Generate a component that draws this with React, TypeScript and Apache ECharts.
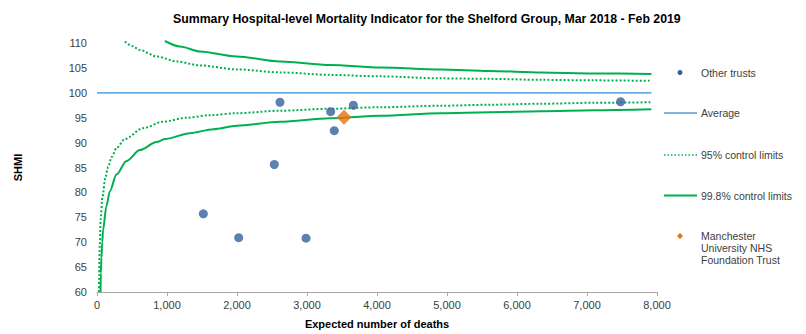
import React, { useEffect, useRef } from "react";
import * as echarts from "echarts";

// Other trusts: expected deaths and SHMI
const otherExpected = [1519, 2024, 2533, 2986, 2614, 3338, 3390, 3662, 7480];
const otherShmi = [75.7, 70.9, 85.6, 70.8, 98.1, 96.2, 92.4, 97.5, 98.2];

// Manchester University NHS Foundation Trust
const manchesterExpected = [3529];
const manchesterShmi = [95.1];

// Average
const averageExpected = [0, 7920];
const averageShmi = [100, 100];

// 95% control limits
const lower95Expected = [27, 30, 39, 53, 77, 120, 158, 210, 278, 398, 659, 946, 1281, 1615, 1997, 2617, 3334, 4050, 4912, 5600, 6345, 7100, 7920];
const lower95Shmi = [60, 63.5, 69.3, 74.8, 79, 83, 85.1, 87.1, 88.9, 90.7, 92.9, 94.2, 95.0, 95.5, 95.9, 96.4, 96.8, 97.1, 97.4, 97.6, 97.8, 98.0, 98.1];
const upper95Expected = [398, 500, 612, 851, 1138, 1471, 1997, 2617, 3334, 4050, 4912, 5600, 6345, 7100, 7920];
const upper95Shmi = [110.3, 109.4, 108.6, 107.3, 106.3, 105.5, 104.7, 104.1, 103.6, 103.3, 102.9, 102.8, 102.6, 102.5, 102.4];

// 99.8% control limits
const lower998Expected = [50, 55, 63, 75, 86, 134, 182, 278, 421, 612, 851, 970, 1328, 1662, 1997, 2617, 3334, 4050, 4912, 5600, 6345, 7100, 7920];
const lower998Shmi = [60, 63.8, 66.8, 70, 72.4, 77.2, 80.2, 83.6, 86.3, 88.5, 90.1, 90.7, 91.9, 92.7, 93.4, 94.2, 94.9, 95.4, 95.9, 96.1, 96.3, 96.5, 96.7];
const upper998Expected = [970, 1185, 1471, 1997, 2617, 3334, 4050, 4912, 5600, 6345, 7100, 7920];
const upper998Shmi = [110.4, 109.3, 108.3, 107.3, 106.3, 105.6, 105.1, 104.7, 104.4, 104.1, 103.9, 103.8];

const xTicks = { min: 0, max: 8000, interval: 1000 };
const yTicks = { min: 60, max: 110, interval: 5 };

const legendLabels = [
  "Other trusts",
  "Average",
  "95% control limits",
  "99.8% control limits",
  "Manchester\nUniversity NHS\nFoundation Trust",
];

const zip = (xs: number[], ys: number[]) => xs.map((x, i) => [x, ys[i]]);

const GREEN = "#00B050";
const BLUE_DOT = "#35609A";
const ORANGE = "#E8700E";
const AVG_BLUE = "#2B8CD9";
const FONT = "'Liberation Sans', Arial, sans-serif";
const TXT = "#404040";

export default function App() {
  const ref = useRef<HTMLDivElement>(null);
  useEffect(() => {
    const chart = echarts.init(ref.current!, null, { renderer: "svg" });
    const limitLine = (name: string, data: number[][], dotted: boolean) => ({
      name,
      type: "line",
      data,
      symbol: "none",
      smooth: 0.3,
      smoothMonotone: "x",
      clip: false,
      z: 2,
      lineStyle: { color: GREEN, width: 2, type: dotted ? [2, 2] : "solid" },
      itemStyle: { color: GREEN },
    });
    const legendY = [72.5, 113, 155, 195.5, 236];
    const graphics: any[] = [
      { type: "circle", shape: { cx: 680, cy: legendY[0], r: 2.5 }, style: { fill: BLUE_DOT } },
      { type: "line", shape: { x1: 664, y1: legendY[1], x2: 697, y2: legendY[1] }, style: { stroke: "#5B9BD5", lineWidth: 1.3 } },
      { type: "line", shape: { x1: 664, y1: legendY[2], x2: 697, y2: legendY[2] }, style: { stroke: GREEN, lineWidth: 1.5, lineDash: [1.5, 2] } },
      { type: "line", shape: { x1: 664, y1: legendY[3], x2: 697, y2: legendY[3] }, style: { stroke: GREEN, lineWidth: 2 } },
      {
        type: "polygon",
        shape: { points: [[680, legendY[4] - 3], [683, legendY[4]], [680, legendY[4] + 3], [677, legendY[4]]] },
        style: { fill: ORANGE },
      },
    ];
    legendLabels.forEach((label, i) => {
      const multi = label.includes("\n");
      graphics.push({
        type: "text",
        x: 701,
        y: multi ? legendY[i] - 6 : legendY[i],
        style: {
          text: label,
          fill: TXT,
          font: `10.5px ${FONT}`,
          lineHeight: 12,
          verticalAlign: multi ? "top" : "middle",
          textAlign: "left",
        },
      });
    });

    chart.setOption({
      animation: false,
      backgroundColor: "#ffffff",
      title: {
        text: "Summary Hospital-level Mortality Indicator for the Shelford Group, Mar 2018 - Feb 2019",
        left: 168,
        top: 8,
        textStyle: { fontFamily: FONT, fontSize: 12.3, fontWeight: "bold", color: "#000000" },
      },
      grid: { left: 97, right: 149, top: 43, bottom: 41 },
      xAxis: {
        type: "value",
        min: xTicks.min,
        max: xTicks.max,
        interval: xTicks.interval,
        name: "Expected number of deaths",
        nameLocation: "middle",
        nameGap: 26,
        nameTextStyle: { fontFamily: FONT, fontSize: 11, fontWeight: "bold", color: "#000000" },
        axisLine: { show: true, lineStyle: { color: "#A6A6A6", width: 1 } },
        axisTick: { show: true, length: 4, lineStyle: { color: "#A6A6A6" } },
        splitLine: { show: false },
        axisLabel: {
          fontFamily: FONT,
          fontSize: 11,
          color: TXT,
          margin: 7,
          formatter: (v: number) => v.toLocaleString("en-US"),
        },
      },
      yAxis: {
        type: "value",
        min: yTicks.min,
        max: yTicks.max,
        interval: yTicks.interval,
        name: "SHMI",
        nameLocation: "middle",
        nameGap: 74,
        nameRotate: 90,
        nameTextStyle: { fontFamily: FONT, fontSize: 11, fontWeight: "bold", color: "#000000" },
        axisLine: { show: false },
        axisTick: { show: false },
        splitLine: { show: false },
        axisLabel: { fontFamily: FONT, fontSize: 11, color: TXT, margin: 10 },
      },
      graphic: graphics,
      series: [
        {
          name: "Average",
          type: "line",
          data: zip(averageExpected, averageShmi),
          symbol: "none",
          z: 1,
          lineStyle: { color: AVG_BLUE, width: 1.2 },
          itemStyle: { color: AVG_BLUE },
        },
        limitLine("95% control limits", zip(upper95Expected, upper95Shmi), true),
        limitLine("95% control limits", zip(lower95Expected, lower95Shmi), true),
        limitLine("99.8% control limits", zip(upper998Expected, upper998Shmi), false),
        limitLine("99.8% control limits", zip(lower998Expected, lower998Shmi), false),
        {
          name: "Other trusts",
          type: "scatter",
          data: zip(otherExpected, otherShmi),
          symbol: "circle",
          symbolSize: 9,
          z: 5,
          itemStyle: { color: BLUE_DOT },
        },
        {
          name: "Manchester University NHS Foundation Trust",
          type: "scatter",
          data: zip(manchesterExpected, manchesterShmi),
          symbol: "diamond",
          symbolSize: 15,
          z: 6,
          itemStyle: { color: ORANGE },
        },
      ],
    });
    return () => chart.dispose();
  }, []);
  return <div ref={ref} style={{ position: "fixed", left: 0, top: 0, width: 806, height: 334 }} />;
}
